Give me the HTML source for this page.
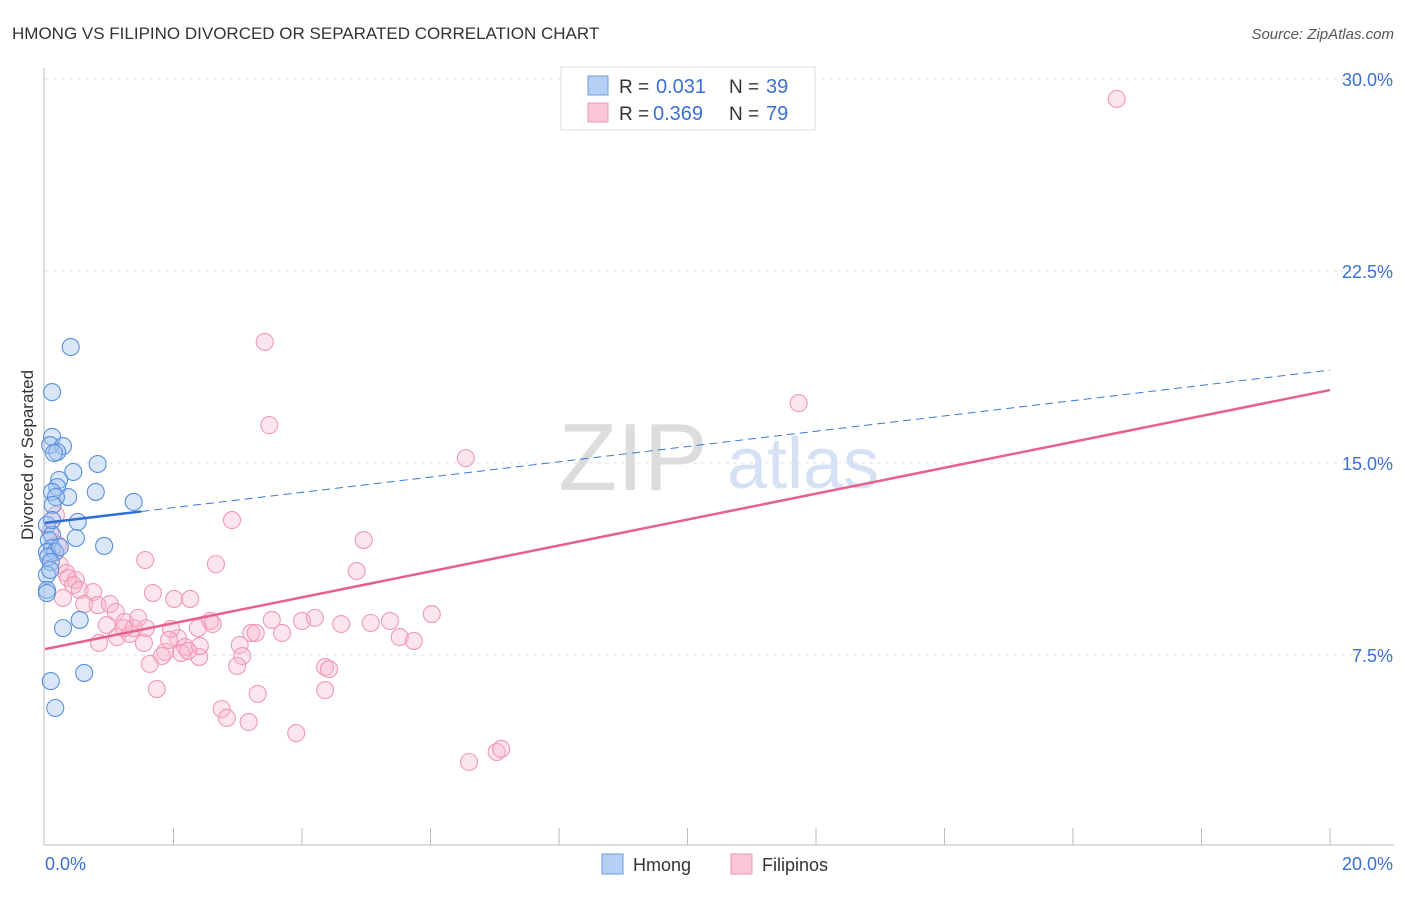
<!DOCTYPE html>
<html><head><meta charset="utf-8"><style>
body{margin:0;background:#fff;font-family:"Liberation Sans",sans-serif;}
svg text{font-family:"Liberation Sans",sans-serif;}
</style></head><body>
<svg id="chart" width="1406" height="892" viewBox="0 0 1406 892" xmlns="http://www.w3.org/2000/svg">
<text x="12" y="39" font-size="17" fill="#333">HMONG VS FILIPINO DIVORCED OR SEPARATED CORRELATION CHART</text>
<text x="1394" y="39" font-size="15" fill="#555" text-anchor="end" font-style="italic">Source: ZipAtlas.com</text>
<g id="grid"></g>
<g>
<text x="633" y="490" font-size="96" fill="#dcdcdc" text-anchor="middle" font-family="Liberation Serif">ZIP</text>
<text x="803" y="488" font-size="72" fill="#d6e2f4" text-anchor="middle">atlas</text>
</g>
<line x1="44" y1="68" x2="44" y2="845" stroke="#bbb"/>
<line x1="44" y1="845" x2="1394" y2="845" stroke="#bbb"/>
<g id="xticks"></g>
<g id="ylabels"></g>
<text x="45" y="870" font-size="18" fill="#3b6fd1">0.0%</text>
<text x="1393" y="870" font-size="18" fill="#3b6fd1" text-anchor="end">20.0%</text>
<text transform="translate(33,455) rotate(-90)" font-size="17" fill="#333" text-anchor="middle">Divorced or Separated</text>
<g id="pink"></g>
<g id="blue"></g>
<g id="trends"></g>
<g>
<rect x="561" y="67" width="254" height="63" fill="#fff" stroke="#ddd"/>
<rect x="588" y="76" width="20" height="19" fill="#b6d0f5" stroke="#6d9be0"/>
<rect x="588" y="103" width="20" height="19" fill="#fbc7d6" stroke="#e99ab1"/>
<text x="619" y="93" font-size="19" fill="#333">R =</text>
<text x="656" y="93" font-size="20" fill="#3b6fd1">0.031</text>
<text x="729" y="93" font-size="19" fill="#333">N =</text>
<text x="766" y="93" font-size="20" fill="#3b6fd1">39</text>
<text x="619" y="120" font-size="19" fill="#333">R =</text>
<text x="653" y="120" font-size="20" fill="#3b6fd1">0.369</text>
<text x="729" y="120" font-size="19" fill="#333">N =</text>
<text x="766" y="120" font-size="20" fill="#3b6fd1">79</text>
</g>
<g>
<rect x="602" y="854" width="21" height="20" fill="#b6d0f5" stroke="#6d9be0"/>
<text x="633" y="871" font-size="18" fill="#333">Hmong</text>
<rect x="731" y="854" width="21" height="20" fill="#fbc7d6" stroke="#e99ab1"/>
<text x="762" y="871" font-size="18" fill="#333">Filipinos</text>
</g>
</svg>
<script>
const yTicks=[7.5,15,22.5,30];
const yTickLabels=["7.5%","15.0%","22.5%","30.0%"];
const hmongX=[0.40,0.11,0.11,0.08,0.28,0.19,0.14,0.82,0.44,0.22,0.19,0.79,0.36,0.11,0.17,0.12,1.38,0.51,0.03,0.11,0.48,0.06,0.92,0.11,0.03,0.16,0.05,0.09,0.03,0.03,0.03,0.28,0.54,0.61,0.09,0.16,0.11,0.23,0.08];
const hmongY=[19.53,17.77,16.02,15.70,15.66,15.43,15.39,14.96,14.65,14.34,14.06,13.87,13.67,13.87,13.67,13.36,13.48,12.70,12.58,12.19,12.07,11.99,11.76,11.68,11.52,11.52,11.33,11.13,10.63,10.04,9.92,8.55,8.87,6.80,6.48,5.43,12.77,11.72,10.82];
const filX=[16.68,3.42,3.49,11.73,6.55,2.91,4.96,1.56,2.66,4.85,0.17,0.08,0.20,0.23,0.33,0.48,0.36,0.28,0.44,0.54,0.75,0.61,0.82,1.01,1.10,0.96,1.24,1.45,0.84,1.12,1.32,1.38,1.57,1.23,1.54,1.68,2.01,2.26,2.07,1.96,1.87,1.82,2.18,2.12,2.40,2.41,2.57,2.61,2.38,1.63,1.74,3.03,3.07,2.99,3.21,3.28,3.69,3.53,4.00,4.20,4.61,5.07,5.37,6.02,5.52,5.74,4.36,4.42,4.36,3.31,2.75,2.83,3.17,3.91,6.60,7.03,7.10,1.93,2.23];
const filY=[29.22,19.73,16.48,17.34,15.19,12.77,11.99,11.21,11.05,10.78,12.97,12.30,11.80,11.02,10.70,10.43,10.51,9.73,10.23,10.04,9.96,9.49,9.45,9.49,9.18,8.67,8.79,8.95,7.97,8.20,8.32,8.55,8.55,8.55,7.97,9.92,9.69,9.69,8.16,8.52,7.62,7.46,7.81,7.58,7.42,7.85,8.83,8.71,8.55,7.15,6.17,7.89,7.46,7.07,8.36,8.36,8.36,8.87,8.83,8.95,8.71,8.75,8.83,9.10,8.20,8.05,7.03,6.95,6.13,5.98,5.39,5.04,4.88,4.45,3.32,3.71,3.83,8.09,7.66];
const hmongTrend=[12.66,18.63];
const hmongSolidEnd=1.5;
const filTrend=[7.73,17.85];
const NS="http://www.w3.org/2000/svg";
const xs=v=>45+v/20*1285;
const ys=v=>847-v/7.5*192;
function mk(tag,attrs,parent){const e=document.createElementNS(NS,tag);for(const k in attrs)e.setAttribute(k,attrs[k]);parent.appendChild(e);return e;}
const grid=document.getElementById('grid'),yl=document.getElementById('ylabels');
yTicks.forEach((t,i)=>{
 const l=mk('line',{x1:45,x2:1394,y1:ys(t),y2:ys(t),stroke:'#e2e2e2','stroke-dasharray':'4,4'},grid);
 
 
 const tx=mk('text',{x:1393,y:ys(t)+7,'font-size':18,fill:'#3b6fd1','text-anchor':'end'},yl);
 tx.textContent=yTickLabels[i];
 
 
});
const xt=document.getElementById('xticks');
for(let k=1;k<=10;k++){
 const l=mk('line',{x1:xs(k*2),x2:xs(k*2),y1:828,y2:845,stroke:'#bbb'},xt);
 
 
}
function pts(X,Y,g,fill,stroke,name){
 X.forEach((x,i)=>{
  const c=mk('circle',{cx:xs(x),cy:ys(Y[i]),r:8.5,fill:fill,stroke:stroke,'stroke-width':1.1},g);
  
  
 });
}
pts(filX,filY,document.getElementById('pink'),'rgba(248,180,202,0.35)','#ee9ab3','filipinos-point');
pts(hmongX,hmongY,document.getElementById('blue'),'rgba(160,196,240,0.4)','#5a8fdc','hmong-point');
const tr=document.getElementById('trends');
const hy=x=>hmongTrend[0]+(hmongTrend[1]-hmongTrend[0])*x/20;
const a=mk('line',{x1:xs(hmongSolidEnd),y1:ys(hy(hmongSolidEnd)),x2:xs(20),y2:ys(hy(20)),stroke:'#3b78d8','stroke-width':1,'stroke-dasharray':'8,5'},tr);


const b=mk('line',{x1:xs(0),y1:ys(hy(0)),x2:xs(hmongSolidEnd),y2:ys(hy(hmongSolidEnd)),stroke:'#2e6fd6','stroke-width':2.5},tr);


const c=mk('line',{x1:xs(0),y1:ys(filTrend[0]),x2:xs(20),y2:ys(filTrend[1]),stroke:'#e8608c','stroke-width':2.5},tr);


</script>
</body></html>
